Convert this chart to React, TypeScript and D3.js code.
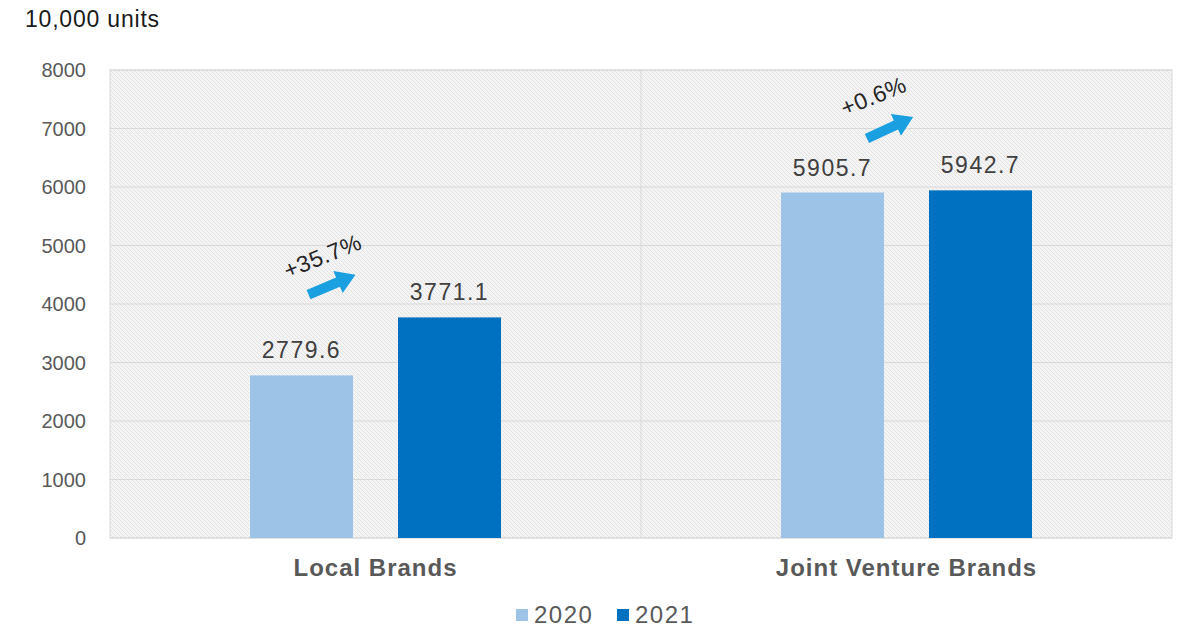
import React from "react";
import * as d3 from "d3";

const categories = ["Local Brands", "Joint Venture Brands"];
const years = ["2020", "2021"];
const values2020 = [2779.6, 5905.7];
const values2021 = [3771.1, 5942.7];
const yTicks = [0, 1000, 2000, 3000, 4000, 5000, 6000, 7000, 8000];
const unitLabel = "10,000 units";
const colors = ["#9dc3e6", "#0070c0"];

const W = 1177;
const H = 629;
const M = { left: 110, right: 1172, top: 70, bottom: 538 };

export default function App() {
  const x0 = d3.scaleBand<string>().domain(categories).range([M.left, M.right]).padding(0);
  const y = d3.scaleLinear().domain([0, 8000]).range([M.bottom, M.top]);
  const bw = 103;
  const gap = 45;
  const series = [values2020, values2021];
  const font = "'Liberation Sans', Arial, sans-serif";

  // arrow annotation offsets (px relative to category centre / bar top)
  const arrowCfg = [
    { dx: -43, dy: -91, angle: -23, tdx: -50, tdy: -112 },
    { dx: -16, dy: -65, angle: -25, tdx: -30, tdy: -89 },
  ];

  return (
    <svg width={W} height={H} style={{ position: "absolute", left: 0, top: 0, background: "#fff" }}>
      <defs>
        <pattern id="hatch" width="4" height="4" patternUnits="userSpaceOnUse">
          <rect width="4" height="4" fill="#f4f4f4" />
          <path d="M-1,-1 L5,5 M-1,3 L1,5 M3,-1 L5,1" stroke="#dedede" strokeWidth="0.8" />
        </pattern>
      </defs>
      <text x={25} y={27} fontFamily={font} fontSize={23} letterSpacing={0.8} fill="#1a1a1a">{unitLabel}</text>
      <rect x={M.left} y={M.top} width={M.right - M.left} height={M.bottom - M.top} fill="url(#hatch)" stroke="#d9d9d9" />
      {yTicks.map((t) => (
        <g key={t}>
          <line x1={M.left} x2={M.right} y1={y(t)} y2={y(t)} stroke="#d9d9d9" strokeWidth={1} />
          <text x={86} y={y(t) + 7} textAnchor="end" fontFamily={font} fontSize={20} fill="#595959">{t}</text>
        </g>
      ))}
      <line x1={x0(categories[1])} x2={x0(categories[1])} y1={M.top} y2={M.bottom} stroke="#d9d9d9" />
      {categories.map((c, ci) => {
        const cx = (x0(c) as number) + x0.bandwidth() / 2;
        return (
          <g key={c}>
            {series.map((s, si) => {
              const bx = si === 0 ? cx - gap / 2 - bw : cx + gap / 2;
              return (
                <g key={si}>
                  <rect x={bx} y={y(s[ci])} width={bw} height={y(0) - y(s[ci])} fill={colors[si]} />
                  <text x={bx + bw / 2} y={y(s[ci]) - 17} textAnchor="middle" fontFamily={font} fontSize={23} letterSpacing={1.5} fill="#404040">{s[ci].toFixed(1)}</text>
                </g>
              );
            })}
            <text x={cx} y={576} textAnchor="middle" fontFamily={font} fontSize={24} letterSpacing={1} fontWeight="bold" fill="#595959">{c}</text>
          </g>
        );
      })}
      {categories.map((c, ci) => {
        const cx = (x0(c) as number) + x0.bandwidth() / 2;
        const cfg = arrowCfg[ci];
        const ax = cx + cfg.dx;
        const ay = y(values2020[ci]) + cfg.dy;
        const pct = ((values2021[ci] / values2020[ci] - 1) * 100).toFixed(1);
        return (
          <g key={"a" + c}>
            <g transform={`translate(${ax},${ay}) rotate(${cfg.angle})`}>
              <path d="M-26,-5 L6,-5 L6,-12 L25,0 L6,12 L6,5 L-26,5 Z" fill="#1aa0e0" />
            </g>
            <text transform={`translate(${cx + cfg.tdx},${y(values2020[ci]) + cfg.tdy}) rotate(-22)`} textAnchor="middle" fontFamily={font} fontSize={23} letterSpacing={0.5} fill="#262626">{"+" + pct + "%"}</text>
          </g>
        );
      })}
      {years.map((yr, i) => {
        const lx = 516 + i * 101;
        return (
          <g key={yr}>
            <rect x={lx} y={609} width={12} height={12} fill={colors[i]} />
            <text x={lx + 18} y={623} fontFamily={font} fontSize={24} letterSpacing={1.5} fill="#595959">{yr}</text>
          </g>
        );
      })}
    </svg>
  );
}
